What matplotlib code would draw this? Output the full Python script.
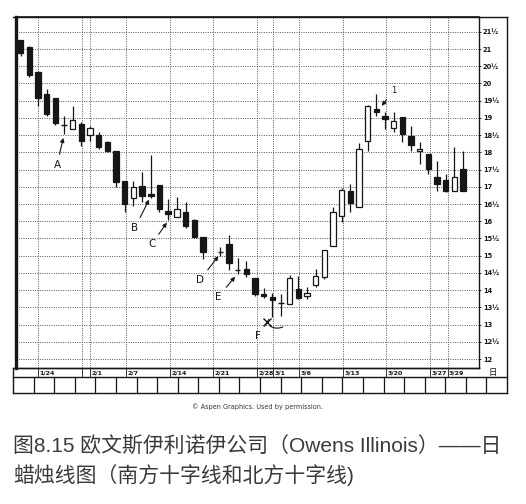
import numpy as np
import matplotlib.pyplot as plt
from matplotlib.lines import Line2D
from matplotlib.patches import Rectangle, FancyArrowPatch

# Owens Illinois daily candles (dollars).
# day_index counts trading-day slots; slot 22 is the holiday gap.
day_index = [0, 1, 2, 3, 4, 5, 6, 7, 8, 9, 10, 11, 12, 13, 14, 15, 16, 17,
             18, 19, 20, 21, 23, 24, 25, 26, 27, 28, 29, 30, 31, 32, 33, 34,
             35, 36, 37, 38, 39, 40, 41, 42, 43, 44, 45, 46, 47, 48, 49, 50, 51]
opens = [21.25, 21.06, 20.33, 19.70, 19.57, 18.80, 18.68, 18.83, 18.49, 18.51,
         18.29, 18.03, 17.16, 16.67, 17.03, 16.79, 17.05, 16.31, 16.11, 16.28,
         16.04, 15.53, 15.12, 15.34, 14.59, 14.61, 14.34, 13.88, 13.79, 13.64,
         13.59, 14.03, 13.82, 14.15, 14.37, 15.29, 16.16, 16.89, 16.40, 18.34,
         19.26, 19.05, 18.71, 19.02, 18.47, 18.03, 17.95, 17.28, 17.21, 16.89, 17.52]
highs = [21.27, 21.08, 20.35, 19.84, 19.58, 19.07, 19.34, 18.88, 18.76, 18.58,
         18.34, 18.04, 17.17, 17.16, 17.44, 17.93, 17.06, 16.65, 16.69, 16.55,
         16.08, 15.54, 15.24, 15.60, 14.92, 14.85, 14.35, 14.05, 13.93, 13.88,
         14.44, 14.40, 14.08, 14.61, 15.17, 16.42, 16.96, 17.08, 18.26, 19.37,
         19.70, 19.17, 19.17, 19.03, 18.78, 18.29, 17.96, 17.76, 17.37, 18.15, 18.05]
lows = [20.80, 20.19, 19.35, 19.05, 18.80, 18.53, 18.68, 18.18, 18.34, 18.10,
        18.00, 16.99, 16.26, 16.43, 16.56, 16.68, 16.28, 16.03, 16.11, 15.79,
        15.50, 14.90, 15.00, 14.59, 14.47, 14.37, 13.83, 13.76, 13.21, 13.25,
        13.59, 13.74, 13.74, 14.08, 14.32, 15.28, 15.97, 16.26, 16.40, 18.05,
        19.05, 18.68, 18.58, 18.29, 18.05, 17.66, 17.37, 16.89, 16.84, 16.89, 16.89]
closes = [20.89, 20.26, 19.57, 19.12, 18.85, 18.80, 18.95, 18.33, 18.70, 18.17,
          18.05, 17.15, 16.51, 16.99, 16.74, 16.72, 16.35, 16.22, 16.35, 15.87,
          15.53, 15.10, 15.12, 14.80, 14.59, 14.47, 13.90, 13.82, 13.72, 13.64,
          14.34, 13.78, 13.91, 14.40, 15.16, 16.28, 16.91, 16.53, 18.10, 19.36,
          19.17, 18.97, 18.92, 18.53, 18.21, 18.10, 17.52, 17.08, 16.89, 17.28, 16.89]

date_labels = ["1/24", "", "2/1", "2/7", "2/14", "2/21", "2/28", "3/1", "3/6",
               "3/13", "3/20", "3/27", "3/29"]
date_pos = [2.0, 7.1, 8.0, 12.15, 17.2, 22.2, 27.25, 29.1, 32.1, 37.2, 42.1,
            47.2, 49.2]

price_ticks = np.arange(12, 22, 0.5)

# letter, text position, arrow tip (slot, price)
notes = [
    ("A", (4.19, 17.64), (4.91, 18.42)),
    ("B", (13.18, 15.81), (14.80, 16.63)),
    ("C", (15.11, 15.33), (16.84, 15.96)),
    ("D", (20.68, 14.30), (22.79, 14.99)),
    ("E", (22.79, 13.81), (24.72, 14.39)),
    ("1", (42.98, 19.81), (41.63, 19.35)),
]

caption = ["图8.15 欧文斯伊利诺伊公司（Owens Illinois）——日",
           "蜡烛线图（南方十字线和北方十字线)"]

W, H = 526, 504
INK = "#161616"


def fx(x):
    return x / W


def fy(y):
    return 1 - y / H


def price_label(p):
    return f"{int(p)}½" if p % 1 else f"{int(p)}"


def draw_candles(ax):
    width = 0.62
    for x, o, h, l, c in zip(day_index, opens, highs, lows, closes):
        ax.vlines(x, l, h, color=INK, lw=0.9, zorder=3)
        if abs(c - o) < 0.02:
            ax.hlines(o, x - width / 2, x + width / 2, color=INK, lw=1.0, zorder=4)
            continue
        face = "white" if c > o else INK
        ax.add_patch(Rectangle((x - width / 2, min(o, c)), width, abs(c - o),
                               facecolor=face, edgecolor=INK, lw=0.9, zorder=4))


def draw_notes(ax):
    for letter, txt, tip in notes:
        ax.annotate(letter, xy=tip, xytext=txt, fontsize=7.5 if letter != "1" else 6,
                    ha="center", va="center", color=INK,
                    arrowprops=dict(arrowstyle="-|>", lw=0.8, color=INK,
                                    mutation_scale=6, shrinkA=2, shrinkB=0))
    # F with the hand-drawn cross and swoosh
    ax.annotate("F", xy=(28.6, 13.15), xytext=(27.4, 12.67), fontsize=7.5,
                ha="center", va="center", color=INK,
                arrowprops=dict(arrowstyle="-", lw=0.8, color=INK, shrinkA=2, shrinkB=0))
    ax.plot(28.37, 13.08, marker="x", ms=6, mew=1.0, color=INK, zorder=5)
    ax.add_patch(FancyArrowPatch((28.5, 13.0), (30.5, 12.97),
                                 connectionstyle="arc3,rad=0.35", arrowstyle="-",
                                 lw=0.8, color=INK))


def draw_frame(fig):
    # date strip, empty box strip and outer border
    lines = [
        ((13, 507), (17, 17)),
        ((507, 507), (17, 393)),
        ((13, 507), (393, 393)),
        ((13, 507), (377, 377)),
        ((13, 13), (368, 393)),
        ((13, 479), (368, 368)),
    ]
    for xs, ys in lines:
        fig.add_artist(Line2D([fx(v) for v in xs], [fy(v) for v in ys],
                              color=INK, lw=1.0))
    cell = (507 - 13) / 24
    for i in range(1, 24):
        x = 13 + i * cell
        fig.add_artist(Line2D([fx(x), fx(x)], [fy(377), fy(393)], color=INK, lw=0.9))
    fig.text(fx(493), fy(373), "日", fontsize=6, ha="center", va="center",
             family=["Noto Sans CJK SC", "DejaVu Sans"], color=INK)
    fig.text(fx(257), fy(407), "© Aspen Graphics. Used by permission.",
             fontsize=4.7, ha="center", va="center", color="#333333")


def plot_chart():
    fig = plt.figure(figsize=(W / 100, H / 100), dpi=100)
    ax = fig.add_axes([fx(16), fy(368), (479 - 16) / W, (368 - 17) / H])

    draw_candles(ax)
    draw_notes(ax)

    ax.set_xlim(-0.54, 52.83)
    ax.set_ylim(11.74, 21.93)

    for p in price_ticks:
        ax.axhline(p, color="#555555", lw=0.7, ls=(0, (1, 1.4)), zorder=1)
    for d in date_pos:
        ax.axvline(d, color="#555555", lw=0.7, ls=(0, (1, 1.4)), zorder=1)

    ax.yaxis.tick_right()
    ax.set_yticks(price_ticks)
    ax.set_yticklabels([price_label(p) for p in price_ticks], fontsize=4.8,
                       color=INK, fontweight="bold")
    ax.tick_params(axis="y", length=1.5, width=0.6, pad=1.2, colors=INK)

    ax.set_xticks(date_pos)
    ax.set_xticklabels([])
    ax.tick_params(axis="x", length=6.5, width=0.6, direction="out", colors=INK)
    for lab, d in zip(date_labels, date_pos):
        ax.text(d + 0.15, -0.0142, lab, transform=ax.get_xaxis_transform(),
                fontsize=4.5, ha="left", va="center", color=INK, fontweight="bold")

    ax.spines["left"].set_linewidth(2.4)
    ax.spines["top"].set_linewidth(1.2)
    ax.spines["right"].set_linewidth(1.0)
    ax.spines["bottom"].set_linewidth(1.0)
    for s in ax.spines.values():
        s.set_color(INK)

    draw_frame(fig)

    for i, line in enumerate(caption):
        fig.text(fx(13), fy(447 + 28 * i), line, fontsize=15.0, ha="left",
                 va="center", color="#3a3a3a",
                 family=["Liberation Sans", "Noto Sans CJK SC"])

    fig.savefig("out.png", dpi=100)


if __name__ == "__main__":
    plot_chart()
